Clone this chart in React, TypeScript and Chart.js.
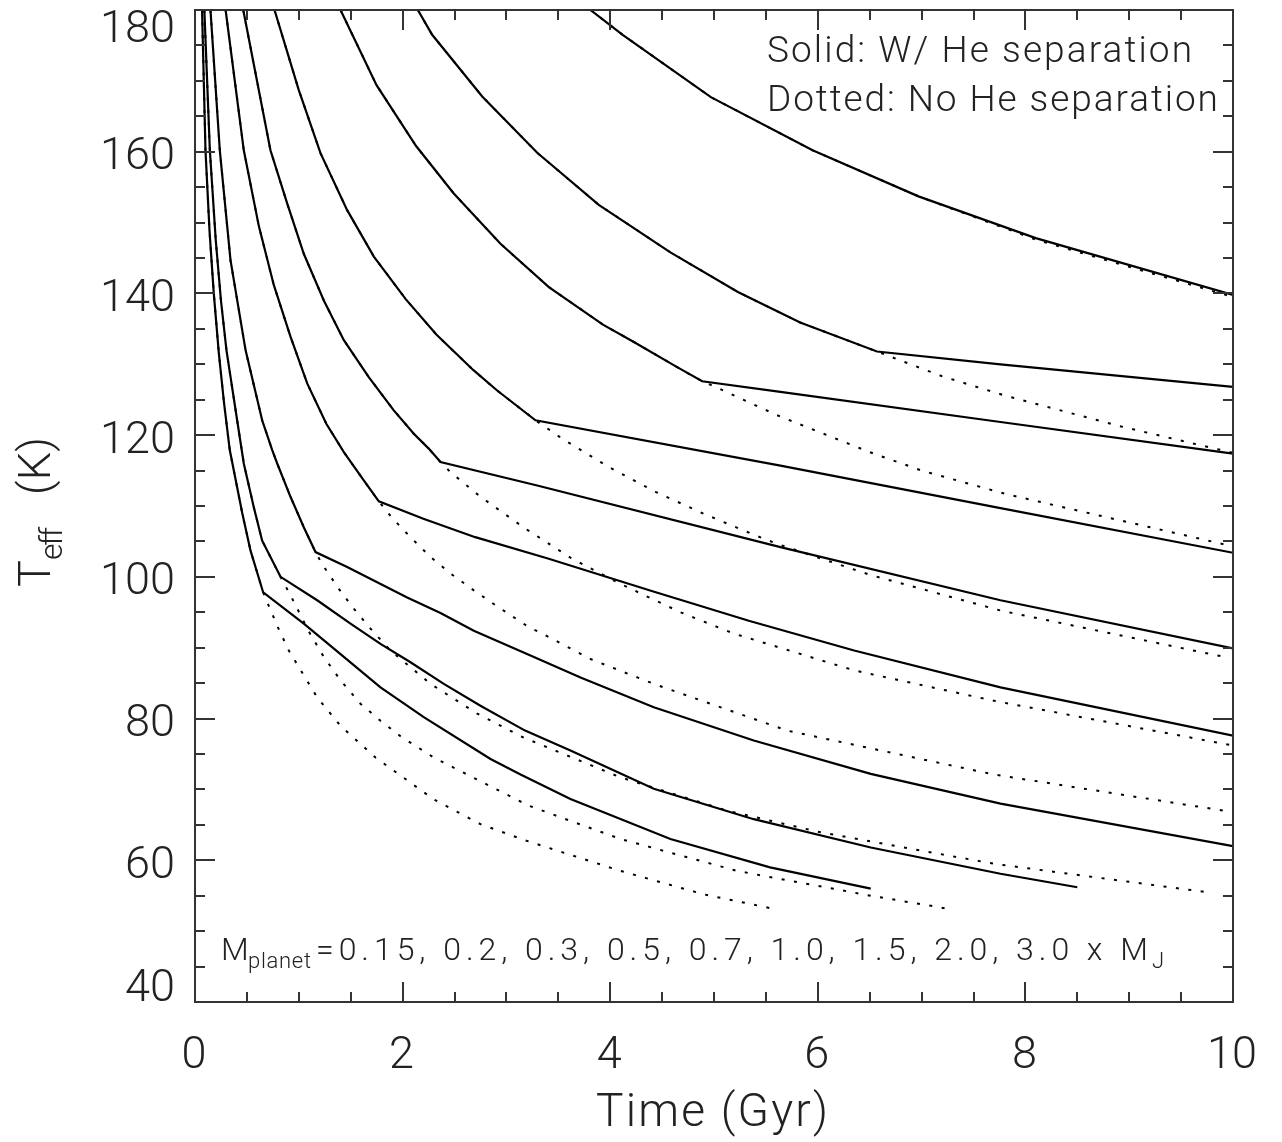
import React, { useEffect, useRef } from 'react';
import { Chart, registerables } from 'chart.js';

Chart.register(...registerables);

type P = [number, number];

// ---------- axis ----------
const X_MIN = 0, X_MAX = 10, X_MAJOR = 2, X_MINOR = 0.5;
const Y_MIN = 40, Y_MAX = 180, Y_MAJOR = 20, Y_MINOR = 5;
const X_TICKS = ['0', '2', '4', '6', '8', '10'];
const Y_TICKS = ['40', '60', '80', '100', '120', '140', '160', '180'];

const MASSES = ['0.15', '0.2', '0.3', '0.5', '0.7', '1.0', '1.5', '2.0', '3.0'];

// ---------- data: Teff (K) vs time (Gyr) ----------
// common track before helium separation sets in
const PRE_015: P[] = [[0.068, 180], [0.101, 160.2], [0.14, 148.8], [0.181, 140], [0.23, 131.5], [0.28, 124.5], [0.335, 117.9], [0.374, 115.0], [0.455, 109.0], [0.535, 103.7], [0.657, 97.8]];
const SOLID_015: P[] = [[1.048, 93.4], [1.402, 89.1], [1.787, 84.4], [2.204, 80.2], [2.847, 74.3], [3.136, 72.1], [3.617, 68.65], [4.58, 63.0], [5.54, 59.0], [6.51, 56.0]];
const DOTTED_015: P[] = [[0.696, 96.4], [0.798, 92.9], [0.904, 89.6], [1.048, 86.1], [1.177, 83.0], [1.4, 79.0], [1.739, 74.5], [2.3, 68.6], [2.75, 65.1], [3.184, 62.8], [4.1, 58.5], [4.9, 55.2], [5.59, 53.1]];

const PRE_02: P[] = [[0.09, 180], [0.143, 160.2], [0.2, 147.5], [0.25, 139.0], [0.303, 132.0], [0.406, 122.1], [0.47, 116.0], [0.567, 109.8], [0.647, 105.1], [0.824, 100.0]];
const SOLID_02: P[] = [[1.177, 96.7], [1.498, 93.4], [1.787, 90.55], [2.076, 87.95], [2.397, 84.9], [2.75, 81.8], [3.18, 78.3], [3.617, 75.5], [4.42, 70.1], [5.383, 65.8], [6.51, 61.8], [7.76, 58.1], [8.5, 56.2]];
const DOTTED_02: P[] = [[0.92, 97.4], [1.096, 92.3], [1.241, 88.7], [1.402, 85.4], [1.594, 82.1], [1.787, 79.7], [1.98, 77.5], [2.3, 74.5], [3.216, 67.7], [4.1, 63.0], [5.223, 58.5], [6.51, 55.0], [7.28, 53.1]];

const PRE_03: P[] = [[0.149, 180], [0.239, 160.2], [0.342, 144.7], [0.487, 132.0], [0.647, 122.1], [0.744, 117.9], [0.792, 116.0], [0.92, 111.3], [1.048, 107.0], [1.161, 103.5]];
const SOLID_03: P[] = [[1.466, 101.4], [1.755, 99.25], [2.044, 97.1], [2.365, 94.9], [2.686, 92.4], [3.232, 88.9], [3.714, 85.8], [4.42, 81.6], [5.383, 76.9], [6.51, 72.2], [7.76, 68.0], [10, 62.0]];
const DOTTED_03: P[] = [[1.225, 101.8], [1.386, 98.3], [1.53, 95.5], [1.691, 92.7], [1.883, 89.6], [2.076, 87.25], [2.269, 84.9], [2.493, 82.8], [2.719, 80.7], [3.168, 77.3], [4.1, 71.7], [5.127, 67.0], [6.026, 63.95], [7.7, 59.5], [9.8, 55.4]];

const PRE_05: P[] = [[0.295, 180], [0.47, 160.2], [0.615, 149.5], [0.759, 141.2], [0.92, 133.9], [1.081, 127.3], [1.265, 121.6], [1.434, 117.6], [1.626, 113.6], [1.771, 110.65]];
const SOLID_05: P[] = [[2.2, 108.2], [2.7, 105.6], [3.4, 102.6], [4.4, 98.0], [5.335, 93.8], [6.35, 89.6], [7.76, 84.4], [10, 77.6]];
const DOTTED_05: P[] = [[1.9, 108.3], [2.076, 105.6], [2.269, 102.8], [2.478, 100.3], [2.686, 98.1], [2.895, 96.0], [3.216, 92.9], [3.345, 92.0], [3.81, 88.4], [4.42, 84.9], [5.705, 78.3], [7.7, 72.1], [10, 66.8]];

const PRE_07: P[] = [[0.465, 180], [0.727, 160.2], [0.888, 152.7], [1.048, 145.6], [1.241, 139.0], [1.434, 133.4], [1.674, 128.2], [1.915, 123.5], [2.108, 120.2], [2.252, 118.1], [2.365, 116.2]];
const SOLID_07: P[] = [[3.297, 112.9], [5.64, 104.2], [7.76, 96.7], [10, 89.9]];
const DOTTED_07: P[] = [[2.46, 114.8], [2.75, 111.3], [3.184, 106.8], [3.634, 102.55], [4.1, 99.0], [4.678, 95.0], [5.19, 92.0], [6.35, 86.8], [7.7, 82.5], [10, 76.2], [10, 62.8]];

const PRE_10: P[] = [[0.766, 180], [1.0, 168.7], [1.209, 159.8], [1.466, 151.75], [1.723, 145.2], [2.03, 139.2], [2.325, 134.2], [2.68, 129.2], [2.911, 126.3], [3.28, 122.1]];
const SOLID_10: P[] = [[5.64, 115.7], [7.76, 109.7], [10, 103.4]];
const DOTTED_10: P[] = [[3.538, 119.5], [3.987, 115.5], [4.436, 112.0], [4.902, 108.9], [5.4, 105.85], [5.62, 104.6], [6.5, 100.3], [7.76, 95.25], [9.95, 88.6]];

const PRE_15: P[] = [[1.402, 180], [1.749, 169.4], [2.13, 160.8], [2.493, 154.1], [2.943, 147.0], [3.409, 140.9], [3.93, 135.6], [4.228, 133.15], [4.645, 129.6], [4.886, 127.6]];
const SOLID_15: P[] = [[5.64, 126.1], [7.76, 121.85], [10, 117.4]];
const DOTTED_15: P[] = [[5.0, 126.9], [5.61, 122.8], [6.5, 117.6], [7.0, 115.0], [7.81, 111.7], [10, 104.3]];

const PRE_20: P[] = [[2.147, 180], [2.285, 176.5], [2.767, 167.8], [3.297, 159.85], [3.89, 152.5], [4.58, 145.8], [5.23, 140.2], [5.83, 135.9], [6.57, 131.8]];
const SOLID_20: P[] = [[7.76, 130.0], [10, 126.8]];
const DOTTED_20: P[] = [[7.2, 128.3], [7.8, 125.6], [8.9, 121.3], [10, 117.5]];

const PRE_30: P[] = [[3.81, 180], [4.12, 176.5], [4.97, 167.7], [5.95, 160.2], [6.97, 153.7]];
const SOLID_30: P[] = [[8.1, 147.8], [10, 139.8]];
const DOTTED_30: P[] = [[8.1, 147.6], [10, 139.5]];

const TRACKS = [
  { pre: PRE_015, solid: SOLID_015, dotted: DOTTED_015 },
  { pre: PRE_02, solid: SOLID_02, dotted: DOTTED_02 },
  { pre: PRE_03, solid: SOLID_03, dotted: DOTTED_03 },
  { pre: PRE_05, solid: SOLID_05, dotted: DOTTED_05 },
  { pre: PRE_07, solid: SOLID_07, dotted: DOTTED_07 },
  { pre: PRE_10, solid: SOLID_10, dotted: DOTTED_10 },
  { pre: PRE_15, solid: SOLID_15, dotted: DOTTED_15 },
  { pre: PRE_20, solid: SOLID_20, dotted: DOTTED_20 },
  { pre: PRE_30, solid: SOLID_30, dotted: DOTTED_30 },
];

// ---------- style ----------
const W = 1282, H = 1142;
const FONT = 'Roboto, "DejaVu Sans", sans-serif';
const WEIGHT = '300';
const TEXT = '#222';
const AXIS = '#333';

function fitText(ctx: CanvasRenderingContext2D, text: string, x: number, y: number, width?: number) {
  (ctx as any).letterSpacing = '0px';
  if (width) {
    const w = ctx.measureText(text).width;
    const n = Array.from(text).length;
    if (n > 1) (ctx as any).letterSpacing = ((width - w) / (n - 1)).toFixed(2) + 'px';
  }
  ctx.fillText(text, x, y);
  (ctx as any).letterSpacing = '0px';
}

const framePlugin = {
  id: 'idlFrame',
  afterDraw(chart: any) {
    const { ctx, chartArea } = chart;
    const { left, right, top, bottom } = chartArea;
    const xs = chart.scales.x, ys = chart.scales.y;
    ctx.save();
    ctx.strokeStyle = AXIS;
    ctx.lineWidth = 2;
    ctx.strokeRect(left, top, right - left, bottom - top);
    ctx.beginPath();
    const nx = Math.round((X_MAX - X_MIN) / X_MINOR);
    for (let i = 0; i <= nx; i++) {
      const v = X_MIN + i * X_MINOR;
      const px = Math.round(xs.getPixelForValue(v));
      const major = Math.abs(v / X_MAJOR - Math.round(v / X_MAJOR)) < 1e-6;
      const len = major ? 20 : 10;
      ctx.moveTo(px, bottom); ctx.lineTo(px, bottom - len);
      ctx.moveTo(px, top); ctx.lineTo(px, top + len);
    }
    const ny = Math.round((Y_MAX - Y_MIN) / Y_MINOR);
    for (let i = 0; i <= ny; i++) {
      const v = Y_MIN + i * Y_MINOR;
      const py = Math.round(ys.getPixelForValue(v));
      const major = Math.abs(v / Y_MAJOR - Math.round(v / Y_MAJOR)) < 1e-6;
      const len = major ? 20 : 10;
      ctx.moveTo(left, py); ctx.lineTo(left + len, py);
      ctx.moveTo(right, py); ctx.lineTo(right - len, py);
    }
    ctx.stroke();

    ctx.fillStyle = TEXT;
    // tick labels
    ctx.font = `${WEIGHT} 45px ${FONT}`;
    ctx.textAlign = 'center';
    ctx.textBaseline = 'alphabetic';
    X_TICKS.forEach((t) => {
      const px = xs.getPixelForValue(Number(t));
      ctx.fillText(t, px - 1, bottom + 66);
    });
    ctx.textAlign = 'right';
    Y_TICKS.forEach((t) => {
      const py = ys.getPixelForValue(Number(t));
      const base = Math.min(Math.max(py + 17.5, top + 32), bottom - 1);
      ctx.fillText(t, left - 20, base);
    });

    ctx.textAlign = 'left';
    // x title
    ctx.font = `${WEIGHT} 46px ${FONT}`;
    fitText(ctx, 'Time (Gyr)', 596, 1126, 232);

    // y title (rotated)
    ctx.save();
    ctx.translate(50, 587);
    ctx.rotate(-Math.PI / 2);
    ctx.font = `${WEIGHT} 45px ${FONT}`;
    ctx.fillText('T', 0, 0);
    ctx.font = `${WEIGHT} 32px ${FONT}`;
    fitText(ctx, 'eff', 27, 12, 33);
    ctx.font = `${WEIGHT} 45px ${FONT}`;
    fitText(ctx, '(K)', 92, 0, 58);
    ctx.restore();

    // legend text
    ctx.font = `${WEIGHT} 37px ${FONT}`;
    fitText(ctx, 'Solid: W/ He separation', 767, 62, 425);
    fitText(ctx, 'Dotted: No He separation', 767, 111, 451);

    // mass annotation
    ctx.font = `${WEIGHT} 32px ${FONT}`;
    fitText(ctx, 'M', 221, 960);
    ctx.font = `${WEIGHT} 22px ${FONT}`;
    fitText(ctx, 'planet', 248, 968, 63);
    ctx.font = `${WEIGHT} 32px ${FONT}`;
    fitText(ctx, '=' + MASSES.join(', ') + ' x M', 316, 960, 832);
    ctx.font = `${WEIGHT} 22px ${FONT}`;
    fitText(ctx, 'J', 1152, 968);
    ctx.restore();
  },
};

export default function App() {
  const ref = useRef<HTMLCanvasElement | null>(null);
  useEffect(() => {
    if (!ref.current) return;
    const toXY = (arr: P[]) => arr.map(([x, y]) => ({ x, y }));
    const solidSets = TRACKS.map((t, i) => ({
      label: `${MASSES[i]} MJ (He separation)`,
      data: toXY([...t.pre, ...t.solid]),
      borderColor: '#000',
      borderWidth: 2.2,
      pointRadius: 0,
      tension: 0,
      fill: false,
    }));
    const dottedSets = TRACKS.map((t, i) => ({
      label: `${MASSES[i]} MJ (no He separation)`,
      data: toXY([...t.pre, ...t.dotted]),
      borderColor: '#000',
      borderWidth: 2,
      borderDash: [3, 9.5],
      borderCapStyle: 'butt' as const,
      pointRadius: 0,
      tension: 0,
      fill: false,
    }));
    const chart = new Chart(ref.current, {
      type: 'line',
      data: { datasets: [...solidSets, ...dottedSets] as any },
      options: {
        responsive: false,
        animation: false,
        devicePixelRatio: 1,
        parsing: true,
        layout: { padding: { left: 195, right: 49, top: 10, bottom: 140 } },
        scales: {
          x: { type: 'linear', min: X_MIN, max: X_MAX, display: false },
          y: { type: 'linear', min: Y_MIN, max: Y_MAX, display: false },
        },
        plugins: { legend: { display: false }, tooltip: { enabled: false } },
        events: [],
      },
      plugins: [framePlugin],
    });
    return () => chart.destroy();
  }, []);
  return (
    <div style={{ position: 'absolute', left: 0, top: 0, width: W, height: H, background: '#fff' }}>
      <canvas ref={ref} width={W} height={H} style={{ display: 'block' }} />
    </div>
  );
}
